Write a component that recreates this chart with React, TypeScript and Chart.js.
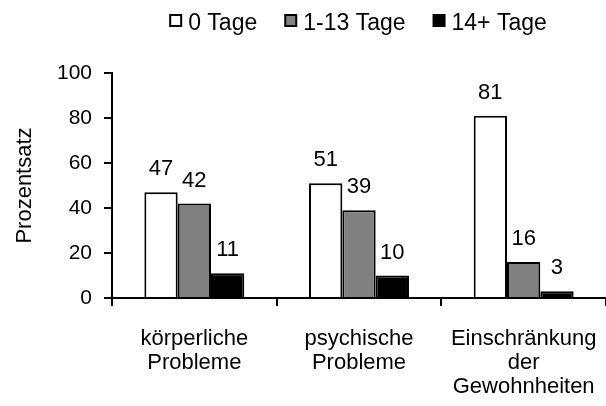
import React, { useEffect, useRef } from 'react';
import { Chart, registerables } from 'chart.js';

Chart.register(...registerables);

const categories: string[][] = [
  ['körperliche', 'Probleme'],
  ['psychische', 'Probleme'],
  ['Einschränkung', 'der', 'Gewohnheiten'],
];
const seriesNames = ['0 Tage', '1-13 Tage', '14+ Tage'];
const values0Tage = [47, 51, 81];
const values1bis13Tage = [42, 39, 16];
const values14plusTage = [11, 10, 3];
const seriesColors = ['#ffffff', '#808080', '#000000'];
const yMin = 0;
const yMax = 100;
const yStep = 20;
const yTitle = 'Prozentsatz';

const FONT = "'Liberation Sans', Arial, sans-serif";

const legendPlugin = {
  id: 'customLegend',
  afterDraw(chart: any) {
    const ctx = chart.ctx;
    ctx.save();
    ctx.font = `23px ${FONT}`;
    const box = 13;
    const gapBoxText = 6;
    const gapItems = 27;
    const items = chart.data.datasets.map((ds: any) => ({
      label: ds.label,
      color: ds.backgroundColor,
      w: ctx.measureText(ds.label).width,
    }));
    let total = 0;
    items.forEach((it: any, i: number) => {
      total += box + gapBoxText + it.w + (i < items.length - 1 ? gapItems : 0);
    });
    const center = (chart.chartArea.left + chart.chartArea.right) / 2 - 1;
    let x = center - total / 2;
    const boxTop = 14;
    const baseline = 30;
    items.forEach((it: any) => {
      ctx.fillStyle = it.color;
      ctx.fillRect(x + 1, boxTop + 1, box - 2, box - 2);
      ctx.lineWidth = 2;
      ctx.strokeStyle = '#000';
      ctx.strokeRect(x + 1, boxTop + 1, box - 2, box - 2);
      ctx.fillStyle = '#000';
      ctx.textAlign = 'left';
      ctx.textBaseline = 'alphabetic';
      ctx.fillText(it.label, x + box + gapBoxText, baseline);
      x += box + gapBoxText + it.w + gapItems;
    });
    ctx.restore();
  },
};

const dataLabelPlugin = {
  id: 'dataLabels',
  afterDatasetsDraw(chart: any) {
    const ctx = chart.ctx;
    ctx.save();
    ctx.font = `22px ${FONT}`;
    ctx.fillStyle = '#000';
    ctx.textAlign = 'center';
    ctx.textBaseline = 'alphabetic';
    chart.data.datasets.forEach((ds: any, di: number) => {
      const meta = chart.getDatasetMeta(di);
      meta.data.forEach((bar: any, i: number) => {
        ctx.fillText(String(ds.data[i]), bar.x, bar.y - 17);
      });
    });
    ctx.restore();
  },
};

export default function App() {
  const canvasRef = useRef<HTMLCanvasElement | null>(null);

  useEffect(() => {
    document.body.style.margin = '0';
    const canvas = canvasRef.current;
    if (!canvas) return;
    const seriesValues = [values0Tage, values1bis13Tage, values14plusTage];
    const chart = new Chart(canvas, {
      type: 'bar',
      data: {
        labels: categories,
        datasets: seriesNames.map((name, i) => ({
          label: name,
          data: seriesValues[i],
          backgroundColor: seriesColors[i],
          borderColor: '#000000',
          borderWidth: 2,
          borderSkipped: 'bottom',
          categoryPercentage: 0.607,
          barPercentage: 1.0,
        })),
      },
      options: {
        animation: false,
        responsive: false,
        maintainAspectRatio: false,
        devicePixelRatio: 1,
        layout: { padding: { top: 73, left: 0, right: 0, bottom: 0 } },
        plugins: {
          legend: { display: false },
          tooltip: { enabled: false },
          title: { display: false },
        },
        scales: {
          x: {
            offset: true,
            grid: {
              offset: true,
              display: true,
              drawOnChartArea: false,
              drawTicks: true,
              tickLength: 8,
              color: '#000',
              lineWidth: 2,
            },
            border: { display: true, color: '#000', width: 2 },
            ticks: {
              color: '#000',
              font: { family: FONT, size: 22, lineHeight: 1.09 },
              padding: 21,
              maxRotation: 0,
              minRotation: 0,
              autoSkip: false,
            },
            afterFit: (scale: any) => {
              scale.height = 108;
              scale.paddingLeft = 0;
              scale.paddingRight = 0;
            },
          },
          y: {
            min: yMin,
            max: yMax,
            grid: {
              display: true,
              drawOnChartArea: false,
              drawTicks: true,
              tickLength: 8,
              color: '#000',
              lineWidth: 2,
            },
            border: { display: true, color: '#000', width: 2 },
            ticks: {
              stepSize: yStep,
              color: '#000',
              font: { family: FONT, size: 21 },
              padding: 12,
            },
            title: {
              display: true,
              text: yTitle,
              color: '#000',
              font: { family: FONT, size: 22, lineHeight: 1.2 },
              padding: { top: 12, bottom: 0 },
            },
            afterFit: (scale: any) => {
              scale.width = 112;
            },
          },
        },
      },
      plugins: [legendPlugin, dataLabelPlugin],
    });
    return () => chart.destroy();
  }, []);

  return (
    <div style={{ position: 'fixed', left: 0, top: 0, width: 606, height: 406 }}>
      <canvas ref={canvasRef} width={606} height={406} style={{ width: 606, height: 406 }} />
    </div>
  );
}
